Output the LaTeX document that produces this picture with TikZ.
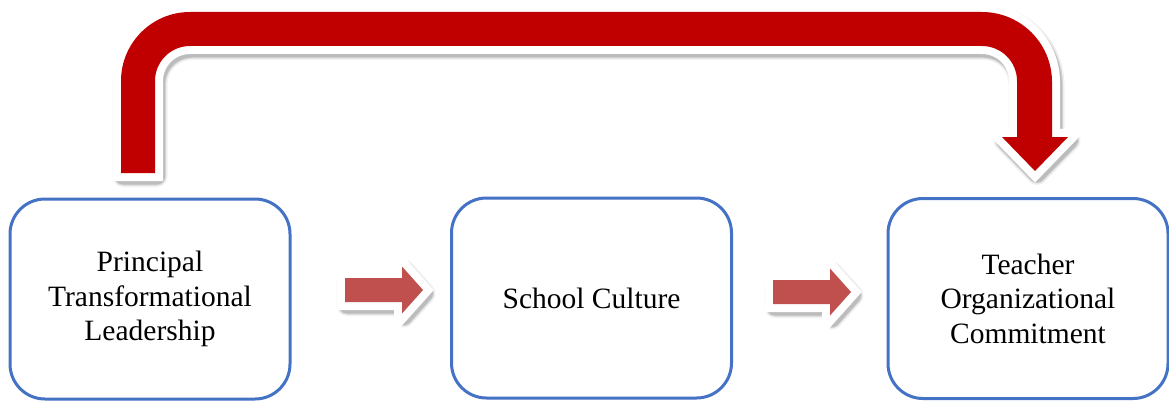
\documentclass[tikz,border=0pt]{standalone}
\usepackage{fontspec}
\setmainfont{Liberation Serif}
\definecolor{boxblue}{HTML}{4472C4}
\definecolor{bigred}{HTML}{C00000}
\definecolor{smallred}{HTML}{C0504D}
\newcommand\bigarrowshape{(121,-173) -- (121,-81) arc[start angle=180,end angle=90,radius=69pt] -- (982,-12) arc[start angle=90,end angle=0,radius=70pt] -- (1052,-137) -- (1068,-137) -- (1035,-171) -- (1002,-137) -- (1017,-137) -- (1017,-81) arc[start angle=0,end angle=90,radius=35pt] -- (190,-46) arc[start angle=90,end angle=180,radius=35pt] -- (155,-173) -- cycle}
\newcommand\smallarrowshape{(0,-12) -- (57,-12) -- (57,-23.5) -- (78,0) -- (57,23.5) -- (57,12) -- (0,12) -- cycle}
\tikzset{
  box/.style={draw=boxblue, line width=3pt, rounded corners=35pt, minimum width=280pt, minimum height=200pt, inner sep=0pt, align=center, fill=white, font=\fontsize{29.5}{34.5}\selectfont},
  whiteborder/.style={draw=white, fill=white, line width=16pt, line join=miter, miter limit=10},
  shadowA/.style={draw=black, line width=21pt, opacity=0.06, line join=round},
  shadowB/.style={draw=black, line width=18pt, opacity=0.10, line join=round},
  shadowC/.style={draw=black, line width=16pt, opacity=0.12, line join=round},
  smallarrow/.pic={
    \begin{scope}[shift={(2pt,-3.5pt)}]
      \path[shadowA] \smallarrowshape;
      \path[shadowB] \smallarrowshape;
      \path[shadowC] \smallarrowshape;
    \end{scope}
    \path[whiteborder] \smallarrowshape;
    \fill[smallred] \smallarrowshape;
  }
}
\begin{document}
\begin{tikzpicture}[x=1pt,y=1pt]
\fill[white] (0,0) rectangle (1169,-401);
\useasboundingbox (0,0) rectangle (1169,-401);
% big arrow
\begin{scope}[shift={(2pt,-3.5pt)}]
  \path[shadowA] \bigarrowshape;
  \path[shadowB] \bigarrowshape;
  \path[shadowC] \bigarrowshape;
\end{scope}
\path[whiteborder] \bigarrowshape;
\fill[bigred] \bigarrowshape;
% boxes
\node[box] (ptl) at (150,-299) {Principal\\Transformational\\Leadership};
\node[box] (sc) at (591.5,-298) {School Culture};
\node[box] (toc) at (1028,-298.5) {Teacher\\Organizational\\Commitment};
% small arrows
\pic at (345,-290) {smallarrow};
\pic at (773,-292) {smallarrow};
\end{tikzpicture}
\end{document}
